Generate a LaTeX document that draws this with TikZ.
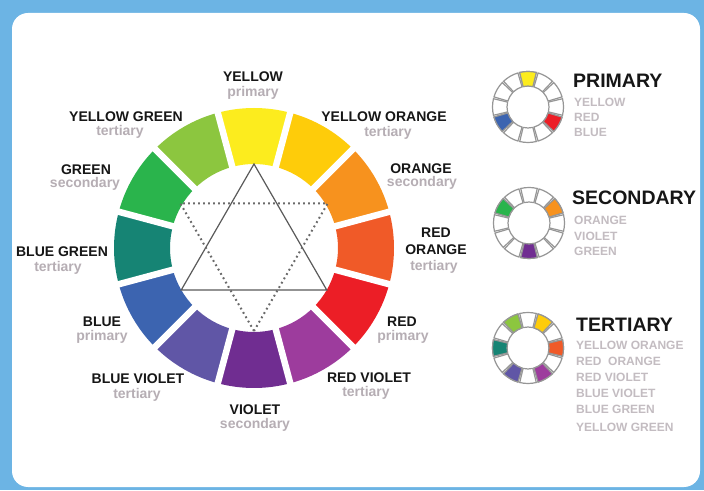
\documentclass[tikz,border=0pt]{standalone}
\usepackage{fontspec}
\setmainfont{Liberation Sans}
\definecolor{frameblue}{RGB}{108,180,228}
\definecolor{cY}{RGB}{252,236,30}
\definecolor{cYO}{RGB}{254,204,10}
\definecolor{cO}{RGB}{247,146,30}
\definecolor{cRO}{RGB}{240,90,40}
\definecolor{cR}{RGB}{236,30,38}
\definecolor{cRV}{RGB}{157,60,157}
\definecolor{cV}{RGB}{112,45,145}
\definecolor{cBV}{RGB}{96,86,166}
\definecolor{cB}{RGB}{60,100,176}
\definecolor{cBG}{RGB}{22,132,116}
\definecolor{cG}{RGB}{42,180,76}
\definecolor{cYG}{RGB}{140,198,63}
\definecolor{labblack}{RGB}{22,22,22}
\definecolor{subgray}{RGB}{182,174,180}
\definecolor{listgray}{RGB}{195,188,193}
\definecolor{triline}{RGB}{90,90,90}
\definecolor{dotline}{RGB}{105,105,105}
\definecolor{segline}{RGB}{150,150,150}
\newcommand{\wseg}[3]{\filldraw[draw=segline, line width=1.2pt, fill=#3] ([shift={({#2-13.5}:21)}]#1) arc[start angle={#2-13.5}, end angle={#2+13.5}, radius=21] -- ([shift={({#2+13.5}:35.5)}]#1) arc[start angle={#2+13.5}, end angle={#2-13.5}, radius=35.5] -- cycle;}
\begin{document}
\begin{tikzpicture}[x=1pt,y=1pt,
  lab/.style={font=\bfseries\fontsize{14}{14}\selectfont, text=labblack, anchor=base, inner sep=0pt},
  sub/.style={font=\bfseries\fontsize{14}{14}\selectfont, text=subgray, anchor=base, inner sep=0pt},
  head/.style={font=\bfseries\fontsize{19.5}{19.5}\selectfont, text=labblack, anchor=base west, inner sep=0pt},
  lst/.style={font=\bfseries\fontsize{12}{12}\selectfont, text=listgray, anchor=base west, inner sep=0pt},
  solidtri/.style={draw=triline, line width=1.2pt},
  dottri/.style={draw=dotline, line width=2pt, dash pattern=on 1.8pt off 3.2pt}]
\useasboundingbox (0,0) rectangle (704,490);
\fill[frameblue] (0,0) rectangle (704,490);
\fill[white, rounded corners=16pt] (12,3) rectangle (700,477);
% main wheel
\coordinate (C) at (254,242);
\foreach \a/\col in {90/cY,60/cYO,30/cO,0/cRO,-30/cR,-60/cRV,-90/cV,-120/cBV,-150/cB,180/cBG,150/cG,120/cYG}{
  \fill[\col] ([shift={({\a-15}:84)}]C) arc[start angle={\a-15}, end angle={\a+15}, radius=84] -- ([shift={({\a+15}:140)}]C) arc[start angle={\a+15}, end angle={\a-15}, radius=140] -- cycle;
}
\foreach \a in {15,45,...,345}{
  \draw[white, line width=6.5pt] ([shift={(\a:80)}]C) -- ([shift={(\a:146)}]C);
}
% triangles
\coordinate (t1) at ([shift={(90:84)}]C);
\coordinate (t2) at ([shift={(210:84)}]C);
\coordinate (t3) at ([shift={(330:84)}]C);
\draw[solidtri] (t1) -- (t2) -- (t3) -- cycle;
\coordinate (D) at (254,244);
\coordinate (d1) at ([shift={(270:85)}]D);
\coordinate (d2) at ([shift={(150:85)}]D);
\coordinate (d3) at ([shift={(30:85)}]D);
\draw[dottri] (d1) -- (d2) -- (d3) -- cycle;
% labels
\node[lab] (lY) at (253,408) {YELLOW};
\node[sub] (sY) at (253,393) {primary};
\node[lab] (lYG) at (126,368) {YELLOW GREEN};
\node[sub] (sYG) at (120,354) {tertiary};
\node[lab] (lYO) at (384,368) {YELLOW ORANGE};
\node[sub] (sYO) at (388,353) {tertiary};
\node[lab] (lG) at (86,315) {GREEN};
\node[sub] (sG) at (85,302) {secondary};
\node[lab] (lO) at (421,316) {ORANGE};
\node[sub] (sO) at (422,303) {secondary};
\node[lab] (lBG) at (62,233) {BLUE GREEN};
\node[sub] (sBG) at (58,218) {tertiary};
\node[lab] (lRO1) at (436,252) {RED};
\node[lab] (lRO2) at (436,235) {ORANGE};
\node[sub] (sRO) at (434,219) {tertiary};
\node[lab] (lB) at (102,163) {BLUE};
\node[sub] (sB) at (102,149) {primary};
\node[lab] (lR) at (402,163) {RED};
\node[sub] (sR) at (403,149) {primary};
\node[lab] (lBV) at (138,106) {BLUE VIOLET};
\node[sub] (sBV) at (137,91) {tertiary};
\node[lab] (lRV) at (369,107) {RED VIOLET};
\node[sub] (sRV) at (366,93) {tertiary};
\node[lab] (lV) at (255,75) {VIOLET};
\node[sub] (sV) at (255,61) {secondary};
% small wheels
\coordinate (P) at (528,383);
\coordinate (S) at (529,267);
\coordinate (T) at (528,142);
\foreach \a in {0,30,...,330}{\wseg{P}{\a}{white}\wseg{S}{\a}{white}\wseg{T}{\a}{white}}
\wseg{P}{90}{cY}\wseg{P}{-30}{cR}\wseg{P}{-150}{cB}
\wseg{S}{30}{cO}\wseg{S}{-90}{cV}\wseg{S}{150}{cG}
\wseg{T}{120}{cYG}\wseg{T}{60}{cYO}\wseg{T}{0}{cRO}\wseg{T}{-60}{cRV}\wseg{T}{-120}{cBV}\wseg{T}{180}{cBG}
% legend texts
\node[head] (hP) at (573,402) {PRIMARY};
\node[lst] (pl1) at (574,383) {YELLOW};
\node[lst] (pl2) at (574,368) {RED};
\node[lst] (pl3) at (574,353) {BLUE};
\node[head] (hS) at (572,285) {SECONDARY};
\node[lst] (sl1) at (574,265) {ORANGE};
\node[lst] (sl2) at (574,249.5) {VIOLET};
\node[lst] (sl3) at (574,234) {GREEN};
\node[head] (hT) at (576,158) {TERTIARY};
\node[lst] (tl1) at (576,140) {YELLOW ORANGE};
\node[lst] (tl2) at (576,124) {RED\ \ ORANGE};
\node[lst] (tl3) at (576,108) {RED VIOLET};
\node[lst] (tl4) at (576,92) {BLUE VIOLET};
\node[lst] (tl5) at (576,76) {BLUE GREEN};
\node[lst] (tl6) at (576,59) {YELLOW GREEN};
\end{tikzpicture}
\end{document}
